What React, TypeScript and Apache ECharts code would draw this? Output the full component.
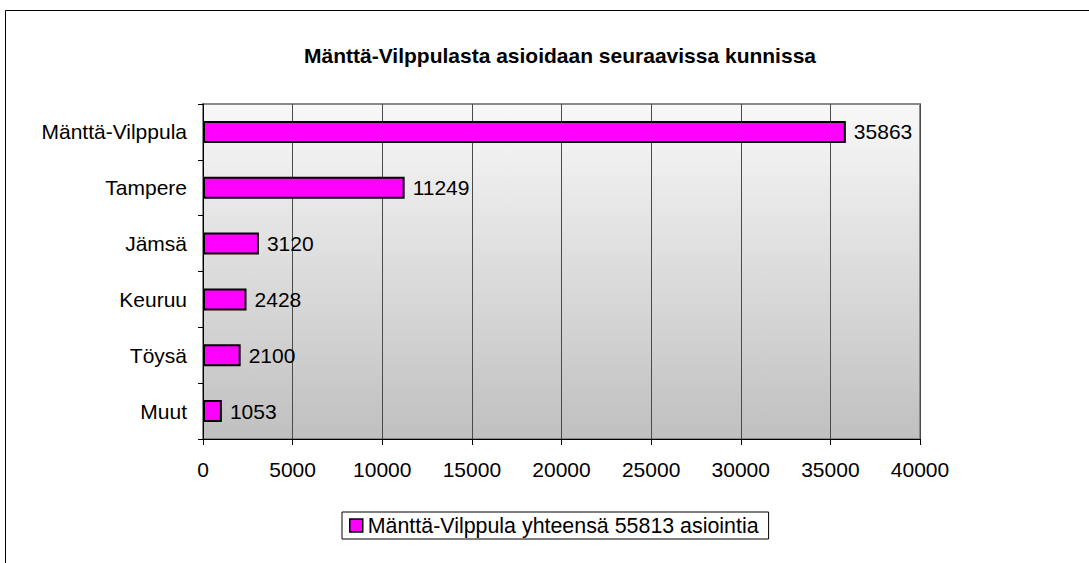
import React, { useEffect, useRef } from "react";
import * as echarts from "echarts";

const categories = ["Mänttä-Vilppula", "Tampere", "Jämsä", "Keuruu", "Töysä", "Muut"];
const values = [35863, 11249, 3120, 2428, 2100, 1053];
const seriesName = "Mänttä-Vilppula yhteensä 55813 asiointia";
const title = "Mänttä-Vilppulasta asioidaan seuraavissa kunnissa";

const FONT = "'Liberation Sans', Arial, sans-serif";

export default function App() {
  const ref = useRef<HTMLDivElement>(null);
  useEffect(() => {
    if (!ref.current) return;
    const chart = echarts.init(ref.current, undefined, { renderer: "svg" });
    chart.setOption({
      animation: false,
      backgroundColor: "#ffffff",
      textStyle: { fontFamily: FONT },
      title: {
        text: title,
        left: 555,
        textAlign: "center",
        top: 40,
        textStyle: { fontSize: 21, fontWeight: "bold", color: "#000", fontFamily: FONT },
      },
      graphic: [
        {
          type: "rect",
          shape: { x: 5.5, y: 10.5, width: 1200, height: 700 },
          style: { fill: "none", stroke: "#000", lineWidth: 1 },
          silent: true,
        },
      ],
      legend: {
        left: 342,
        top: 512,
        padding: [3, 10, 3, 7],
        borderColor: "#000",
        borderWidth: 1,
        itemWidth: 13,
        itemHeight: 13,
        icon: "rect",
        textStyle: { fontSize: 21.4, color: "#000", fontFamily: FONT },
        data: [{ name: seriesName, itemStyle: { color: "#ff00ff", borderColor: "#000", borderWidth: 1.5 } }],
      },
      grid: {
        left: 203,
        top: 104,
        right: 169,
        bottom: 124,
        show: true,
        borderColor: "#8a8a8a",
        borderWidth: 2,
        backgroundColor: new echarts.graphic.LinearGradient(0, 0, 0, 1, [
          { offset: 0, color: "#f8f8f8" },
          { offset: 1, color: "#c0c0c0" },
        ]),
      },
      xAxis: {
        type: "value",
        min: 0,
        max: 40000,
        interval: 5000,
        axisLine: { show: true, lineStyle: { color: "#000", width: 1 } },
        axisTick: { show: true, length: 6, lineStyle: { color: "#000" } },
        axisLabel: {
          fontSize: 21,
          color: "#000",
          margin: 20,
          fontFamily: FONT,
          formatter: (v: number) => String(v),
        },
        splitLine: { show: true, lineStyle: { color: "#4a4a4a", width: 1 } },
      },
      yAxis: {
        type: "category",
        data: categories,
        inverse: true,
        axisLine: { show: true, lineStyle: { color: "#000", width: 1 } },
        axisTick: { show: true, length: 5, lineStyle: { color: "#000" } },
        axisLabel: { fontSize: 21, color: "#000", margin: 16, fontFamily: FONT },
        splitLine: { show: false },
      },
      series: [
        {
          name: seriesName,
          type: "bar",
          data: values,
          barWidth: 22,
          itemStyle: { color: "#ff00ff", borderColor: "#000", borderWidth: 2 },
          label: {
            show: true,
            position: "right",
            distance: 8,
            fontSize: 21,
            color: "#000",
            fontFamily: FONT,
          },
        },
      ],
    });
    return () => chart.dispose();
  }, []);
  return (
    <div
      ref={ref}
      style={{ position: "fixed", left: 0, top: 0, width: 1089, height: 563 }}
    />
  );
}
